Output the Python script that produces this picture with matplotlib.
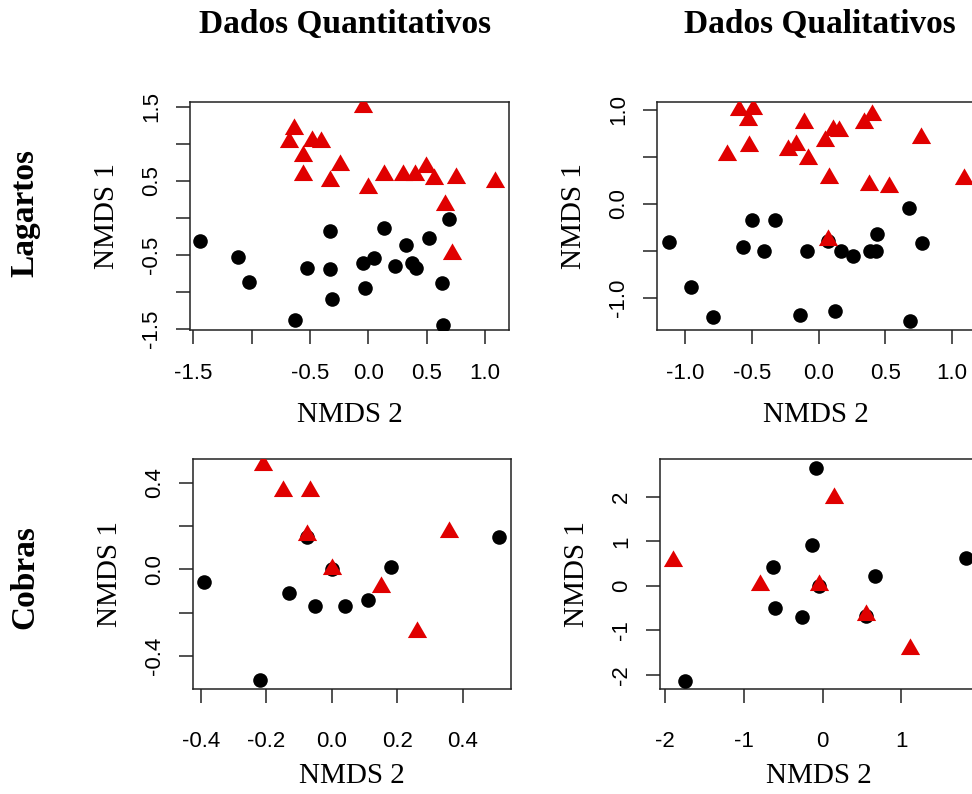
"""
Ordenação NMDS - lagartos e cobras, dados quantitativos x qualitativos
Saída: out.png (972x794)
"""

import matplotlib
matplotlib.use('Agg')
import matplotlib.pyplot as plt

# ==================== dados ====================

# Lagartos - dados quantitativos
lag_quant_pret_x = [-1.44, -1.12, -1.02, -0.63, -0.53, -0.33, -0.33, -0.31, -0.05, -0.03,
                    0.05, 0.13, 0.23, 0.32, 0.37, 0.41, 0.52, 0.63, 0.64, 0.69]
lag_quant_pret_y = [-0.31, -0.52, -0.86, -1.37, -0.67, -0.18, -0.69, -1.09, -0.60, -0.94,
                    -0.54, -0.14, -0.64, -0.37, -0.61, -0.68, -0.27, -0.88, -1.44, -0.01]
lag_quant_verm_x = [-0.68, -0.64, -0.56, -0.56, -0.48, -0.41, -0.33, -0.24, -0.05, 0.00,
                    0.13, 0.30, 0.40, 0.49, 0.56, 0.75, 1.09, 0.66, 0.72]
lag_quant_verm_y = [1.02, 1.20, 0.84, 0.58, 1.04, 1.02, 0.50, 0.72, 1.50, 0.41,
                    0.58, 0.58, 0.58, 0.69, 0.53, 0.54, 0.48, 0.18, -0.48]

# Lagartos - dados qualitativos
lag_qual_pret_x = [-1.12, -0.96, -0.79, -0.57, -0.50, -0.41, -0.33, -0.14, -0.09, 0.12,
                   0.17, 0.26, 0.39, 0.43, 0.44, 0.68, 0.69, 0.78, 0.07]
lag_qual_pret_y = [-0.41, -0.89, -1.21, -0.46, -0.18, -0.51, -0.18, -1.19, -0.51, -1.14,
                   -0.51, -0.56, -0.51, -0.50, -0.32, -0.05, -1.25, -0.42, -0.40]
lag_qual_verm_x = [-0.69, -0.60, -0.53, -0.49, -0.52, -0.23, -0.17, -0.11, -0.08, 0.05,
                   0.11, 0.15, 0.08, 0.07, 0.34, 0.40, 0.38, 0.53, 0.77, 1.09]
lag_qual_verm_y = [0.52, 1.00, 0.89, 1.01, 0.61, 0.57, 0.62, 0.86, 0.47, 0.66,
                   0.78, 0.77, 0.27, -0.39, 0.86, 0.94, 0.20, 0.18, 0.70, 0.26]

# Cobras - dados quantitativos
cob_quant_pret_x = [-0.39, -0.22, -0.13, -0.05, -0.075, 0.00, 0.04, 0.11, 0.18, 0.51]
cob_quant_pret_y = [-0.06, -0.51, -0.11, -0.17, 0.15, 0.00, -0.17, -0.14, 0.01, 0.15]
cob_quant_verm_x = [-0.21, -0.15, -0.066, -0.075, 0.00, 0.15, 0.26, 0.36]
cob_quant_verm_y = [0.48, 0.36, 0.36, 0.16, 0.00, -0.08, -0.29, 0.17]

# Cobras - dados qualitativos
cob_qual_pret_x = [-0.08, -0.13, -0.63, -0.60, -0.26, 0.67, -1.74, 1.82, -0.04, 0.55]
cob_qual_pret_y = [2.65, 0.91, 0.43, -0.50, -0.70, 0.23, -2.14, 0.62, 0.00, -0.68]
cob_qual_verm_x = [-1.90, -0.79, -0.04, 0.14, 0.55, 1.11]
cob_qual_verm_y = [0.55, 0.02, 0.02, 1.98, -0.65, -1.43]

# eixos: ticks e rótulos (R omite alguns rótulos que se sobrepõem)
lq_xticks = [-1.5, -1.0, -0.5, 0.0, 0.5, 1.0]
lq_xlabels = ['-1.5', '', '-0.5', '0.0', '0.5', '1.0']
lq_yticks = [-1.5, -1.0, -0.5, 0.0, 0.5, 1.0, 1.5]
lq_ylabels = ['-1.5', '', '-0.5', '', '0.5', '', '1.5']

lql_xticks = [-1.0, -0.5, 0.0, 0.5, 1.0]
lql_xlabels = ['-1.0', '-0.5', '0.0', '0.5', '1.0']
lql_yticks = [-1.0, -0.5, 0.0, 0.5, 1.0]
lql_ylabels = ['-1.0', '', '0.0', '', '1.0']

cq_xticks = [-0.4, -0.2, 0.0, 0.2, 0.4]
cq_xlabels = ['-0.4', '-0.2', '0.0', '0.2', '0.4']
cq_yticks = [-0.4, -0.2, 0.0, 0.2, 0.4]
cq_ylabels = ['-0.4', '', '0.0', '', '0.4']

cql_xticks = [-2, -1, 0, 1]
cql_xlabels = ['-2', '-1', '0', '1']
cql_yticks = [-2, -1, 0, 1, 2]
cql_ylabels = ['-2', '-1', '0', '1', '2']

COL_TITULOS = ['Dados Quantitativos', 'Dados Qualitativos']
LINHAS = ['Lagartos', 'Cobras']

# ==================== estilo ====================

W, H = 972, 794
SERIF = ['Liberation Serif', 'DejaVu Serif']
SANS = ['Liberation Sans Narrow', 'Liberation Sans', 'DejaVu Sans']
VERMELHO = '#e00000'
COR_EIXO = '#222222'


def caixa(l, t, r, b):
    """pixels -> [left, bottom, width, height] em fração da figura"""
    return [l / W, (H - b) / H, (r - l) / W, (b - t) / H]


def painel(fig, box, xlim, ylim, xt, xl, yt, yl, px, py, vx, vy, xpad, xlab_px):
    ax = fig.add_axes(box)
    ax.plot(px, py, 'o', color='black', markersize=10.5, markeredgewidth=0, zorder=3)
    ax.plot(vx, vy, marker=(3, 0, 0), linestyle='none', color=VERMELHO,
            markersize=16, markeredgewidth=0, zorder=4)
    ax.set_xlim(xlim)
    ax.set_ylim(ylim)
    ax.set_xticks(xt, xl, fontsize=16, family=SANS)
    ax.set_yticks(yt, yl, fontsize=16, family=SANS, rotation=90, va='center')
    ax.tick_params(axis='both', direction='out', length=10, width=1.1, color=COR_EIXO)
    ax.tick_params(axis='x', pad=xpad)
    ax.tick_params(axis='y', pad=10)
    for s in ax.spines.values():
        s.set_linewidth(1.1)
        s.set_color(COR_EIXO)
    ax.set_xlabel('NMDS 2', fontsize=21, family=SERIF, va='center')
    ax.set_ylabel('NMDS 1', fontsize=21, family=SERIF, va='center')
    h_px = box[3] * H
    w_px = box[2] * W
    ax.xaxis.set_label_coords(0.5, -xlab_px / h_px)
    ax.yaxis.set_label_coords(-83 / w_px, 0.5)
    return ax


def main():
    fig = plt.figure(figsize=(W / 100, H / 100), dpi=100)

    painel(fig, caixa(190, 101.7, 509, 330), (-1.53, 1.206), (-1.51, 1.57),
           lq_xticks, lq_xlabels, lq_yticks, lq_ylabels,
           lag_quant_pret_x, lag_quant_pret_y, lag_quant_verm_x, lag_quant_verm_y,
           14, 85)
    painel(fig, caixa(656.7, 101.7, 975.7, 330), (-1.215, 1.18), (-1.345, 1.083),
           lql_xticks, lql_xlabels, lql_yticks, lql_ylabels,
           lag_qual_pret_x, lag_qual_pret_y, lag_qual_verm_x, lag_qual_verm_y,
           14, 85)
    painel(fig, caixa(192.7, 459.3, 511, 689.3), (-0.425, 0.548), (-0.553, 0.507),
           cq_xticks, cq_xlabels, cq_yticks, cq_ylabels,
           cob_quant_pret_x, cob_quant_pret_y, cob_quant_verm_x, cob_quant_verm_y,
           20, 87)
    painel(fig, caixa(660, 459.3, 978, 689.3), (-2.06, 1.97), (-2.33, 2.85),
           cql_xticks, cql_xlabels, cql_yticks, cql_ylabels,
           cob_qual_pret_x, cob_qual_pret_y, cob_qual_verm_x, cob_qual_verm_y,
           20, 87)

    # títulos das colunas e das linhas
    for x_px, txt in zip([345, 820], COL_TITULOS):
        fig.text(x_px / W, 1 - 25 / H, txt, fontsize=24, family=SERIF,
                 weight='bold', ha='center', va='center')
    for y_px, txt in zip([213, 577], LINHAS):
        fig.text(25 / W, 1 - y_px / H, txt, fontsize=24, family=SERIF,
                 weight='bold', ha='center', va='center', rotation=90)

    fig.savefig('out.png', dpi=100)
    plt.close(fig)


if __name__ == '__main__':
    main()
